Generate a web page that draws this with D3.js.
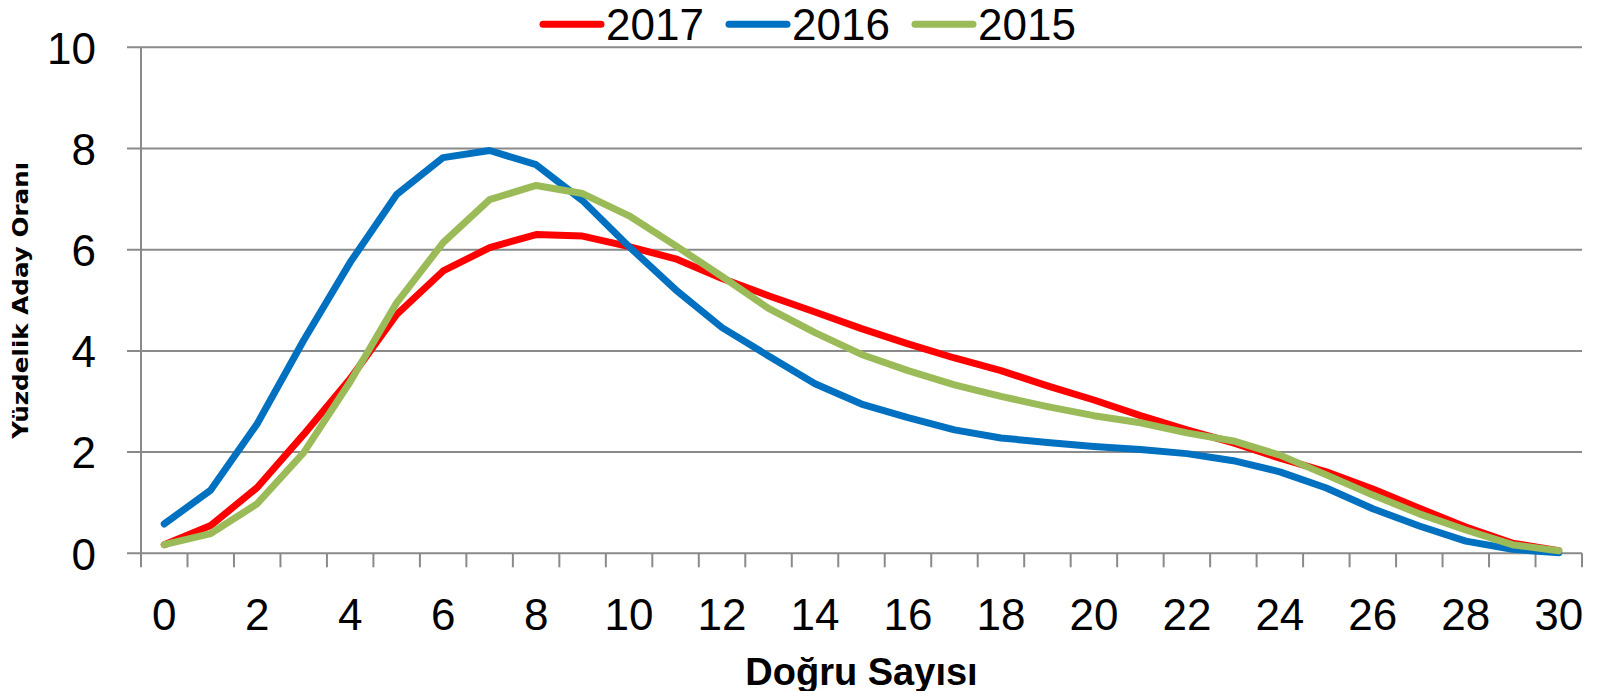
<!DOCTYPE html>
<html>
<head>
<meta charset="utf-8">
<script src="https://cdn.jsdelivr.net/npm/d3@7"></script>
<style>
  body { margin: 0; background: #fff; }
  .tick-label { font-family: "Liberation Sans Narrow", "Arial Narrow", "Liberation Sans", sans-serif; }
</style>
</head>
<body>
<div id="chart"></div>
<script>
// Chart data: x = number of correct answers, y = percent of candidates.
const categories = d3.range(0, 31);
const seriesNames = ["2017", "2016", "2015"];
const values2017 = [0.17, 0.55, 1.30, 2.35, 3.45, 4.72, 5.58, 6.04, 6.30, 6.27, 6.06, 5.82, 5.43, 5.09, 4.77, 4.44,
    4.14, 3.86, 3.61, 3.31, 3.03, 2.72, 2.44, 2.18, 1.88, 1.61, 1.27, 0.89, 0.52, 0.20, 0.05];
const values2016 = [0.58, 1.25, 2.56, 4.21, 5.75, 7.09, 7.82, 7.96, 7.68, 6.97, 6.06, 5.21, 4.46, 3.90, 3.35, 2.95,
    2.68, 2.44, 2.28, 2.19, 2.11, 2.05, 1.97, 1.83, 1.61, 1.29, 0.88, 0.54, 0.24, 0.08, 0.01];
const values2015 = [0.17, 0.39, 0.98, 1.99, 3.39, 4.95, 6.14, 6.99, 7.27, 7.11, 6.67, 6.08, 5.47, 4.84, 4.36, 3.93,
    3.61, 3.33, 3.10, 2.90, 2.72, 2.58, 2.38, 2.22, 1.94, 1.55, 1.15, 0.78, 0.46, 0.17, 0.05];
const xTickLabels = [0, 2, 4, 6, 8, 10, 12, 14, 16, 18, 20, 22, 24, 26, 28, 30];
const yTickValues = [0, 2, 4, 6, 8, 10];
const colors = ["#ff0000", "#0070c0", "#9bbb59"];

const width = 1606;
const height = 691;
const margin = { top: 47.3, right: 24, bottom: 137.7, left: 141 };

const svg = d3.select("#chart")
    .append("svg")
    .attr("width", width)
    .attr("height", height);

// Category axis: one band per answer count, points sit in the middle of each band.
const xScale = d3.scaleBand()
    .domain(categories)
    .range([margin.left, width - margin.right]);

const yScale = d3.scaleLinear()
    .domain([0, 10])
    .range([height - margin.bottom, margin.top]);

const gridColor = "#8a8a8a";
const plotBottom = yScale(0);

// Horizontal gridlines, running a little left of the y axis as tick marks.
svg.append("g")
    .selectAll("line")
    .data(yTickValues)
    .enter()
    .append("line")
    .attr("x1", margin.left - 14)
    .attr("x2", width - margin.right)
    .attr("y1", d => yScale(d))
    .attr("y2", d => yScale(d))
    .attr("stroke", gridColor)
    .attr("stroke-width", 2);

// Vertical axis line.
svg.append("line")
    .attr("x1", margin.left)
    .attr("x2", margin.left)
    .attr("y1", yScale(10))
    .attr("y2", plotBottom)
    .attr("stroke", gridColor)
    .attr("stroke-width", 2);

// Tick marks between categories on the x axis.
const boundaries = categories.map(d => xScale(d)).concat([xScale.range()[1]]);
svg.append("g")
    .selectAll("line")
    .data(boundaries)
    .enter()
    .append("line")
    .attr("x1", d => d)
    .attr("x2", d => d)
    .attr("y1", plotBottom)
    .attr("y2", plotBottom + 14)
    .attr("stroke", gridColor)
    .attr("stroke-width", 2);

// Y tick labels.
const yAxis = svg.append("g")
    .attr("transform", `translate(${margin.left}, 0)`)
    .call(d3.axisLeft(yScale).tickValues(yTickValues).tickSize(0).tickPadding(45));
yAxis.select(".domain").remove();
yAxis.selectAll("text")
    .attr("class", "tick-label")
    .attr("font-size", 44)
    .attr("fill", "#000")
    .attr("dy", "0.36em");

// X tick labels, every second category.
const xAxis = svg.append("g")
    .attr("transform", `translate(0, ${plotBottom})`)
    .call(d3.axisBottom(xScale).tickValues(xTickLabels).tickSize(0).tickPadding(45));
xAxis.select(".domain").remove();
xAxis.selectAll("text")
    .attr("class", "tick-label")
    .attr("font-size", 44)
    .attr("fill", "#000")
    .attr("dy", "0.72em");

// Lines, drawn in legend order so 2015 ends on top.
const line = d3.line()
    .x((d, i) => xScale(categories[i]) + xScale.bandwidth() / 2)
    .y(d => yScale(d));

const allSeries = [values2017, values2016, values2015];
svg.append("g")
    .selectAll("path")
    .data(allSeries)
    .enter()
    .append("path")
    .attr("d", d => line(d))
    .attr("fill", "none")
    .attr("stroke", (d, i) => colors[i])
    .attr("stroke-width", 7)
    .attr("stroke-linejoin", "round")
    .attr("stroke-linecap", "round");

// Legend across the top.
const legend = svg.append("g")
    .selectAll("g")
    .data(seriesNames)
    .enter()
    .append("g")
    .attr("transform", (d, i) => `translate(${543 + i * 186}, 0)`);

legend.append("line")
    .attr("x1", 0)
    .attr("x2", 58)
    .attr("y1", 24.3)
    .attr("y2", 24.3)
    .attr("stroke", (d, i) => colors[i])
    .attr("stroke-width", 7)
    .attr("stroke-linecap", "round");

legend.append("text")
    .attr("class", "tick-label")
    .attr("x", 63)
    .attr("y", 40)
    .attr("font-size", 44)
    .text(d => d);

// X axis title.
svg.append("text")
    .attr("x", (margin.left + width - margin.right) / 2)
    .attr("y", 685)
    .attr("text-anchor", "middle")
    .attr("font-family", "'Liberation Sans', Arial, sans-serif")
    .attr("font-weight", "bold")
    .attr("font-size", 38)
    .text("Doğru Sayısı");

// Y axis title.
svg.append("text")
    .attr("transform", `translate(28, ${(margin.top + plotBottom) / 2}) rotate(-90)`)
    .attr("text-anchor", "middle")
    .attr("font-family", "'DejaVu Sans', sans-serif")
    .attr("font-weight", "bold")
    .attr("font-size", 22)
    .attr("textLength", 277)
    .attr("lengthAdjust", "spacingAndGlyphs")
    .text("Yüzdelik Aday Oranı");
</script>
</body>
</html>
